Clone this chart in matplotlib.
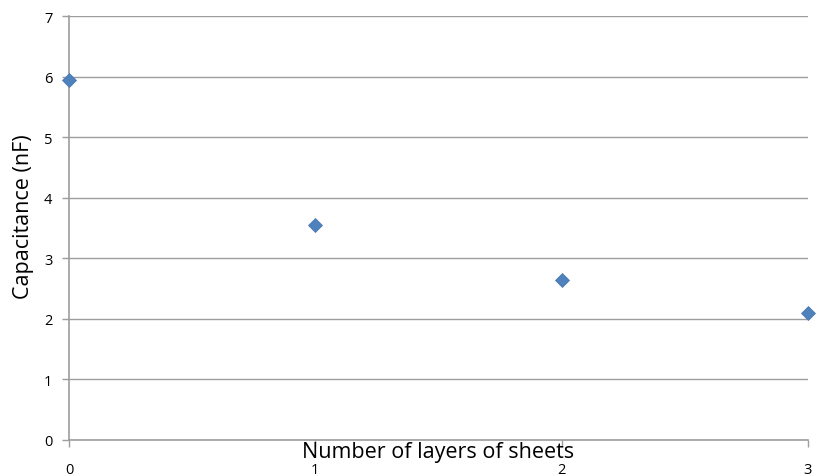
import numpy as np
import matplotlib.pyplot as plt

# data
layers = [0, 1, 2, 3]
capacitance = [5.94, 3.55, 2.64, 2.10]
x_ticks = [0, 1, 2, 3]
y_ticks = [0, 1, 2, 3, 4, 5, 6, 7]

plt.rcParams['font.family'] = ['Open Sans', 'DejaVu Sans']

fig = plt.figure(figsize=(8.19, 4.77), dpi=100)
ax = fig.add_axes([69 / 819, 36 / 477, 739 / 819, 424 / 477])

grid_col = '#9d9d9d'

ax.scatter(layers, capacitance, marker='D', s=50, color='#4f81bd',
           edgecolors='#4a7ab3', linewidths=0.6, zorder=3, clip_on=False)

ax.set_xlim(0, 3)
ax.set_ylim(0, 7)
ax.set_xticks(x_ticks)
ax.set_yticks(y_ticks)
ax.yaxis.grid(True, color=grid_col, linewidth=1.0)
ax.set_axisbelow(True)

for side in ['top', 'right']:
    ax.spines[side].set_visible(False)
for side in ['left', 'bottom']:
    ax.spines[side].set_color(grid_col)
    ax.spines[side].set_linewidth(1.2)

ax.tick_params(axis='both', colors=grid_col, length=5, width=1.0,
               labelcolor='black', labelsize=10.5)
ax.tick_params(axis='x', pad=11)
ax.tick_params(axis='y', pad=7)

ax.set_ylabel('Capacitance (nF)', fontsize=15.5)
ax.yaxis.set_label_coords(-0.047, 0.53, transform=ax.transAxes)
ax.set_xlabel('Number of layers of sheets', fontsize=15.5)
ax.xaxis.set_label_coords(0.5, -0.002, transform=ax.transAxes)
ax.xaxis.label.set_verticalalignment('top')

fig.savefig('out.png', dpi=100)
